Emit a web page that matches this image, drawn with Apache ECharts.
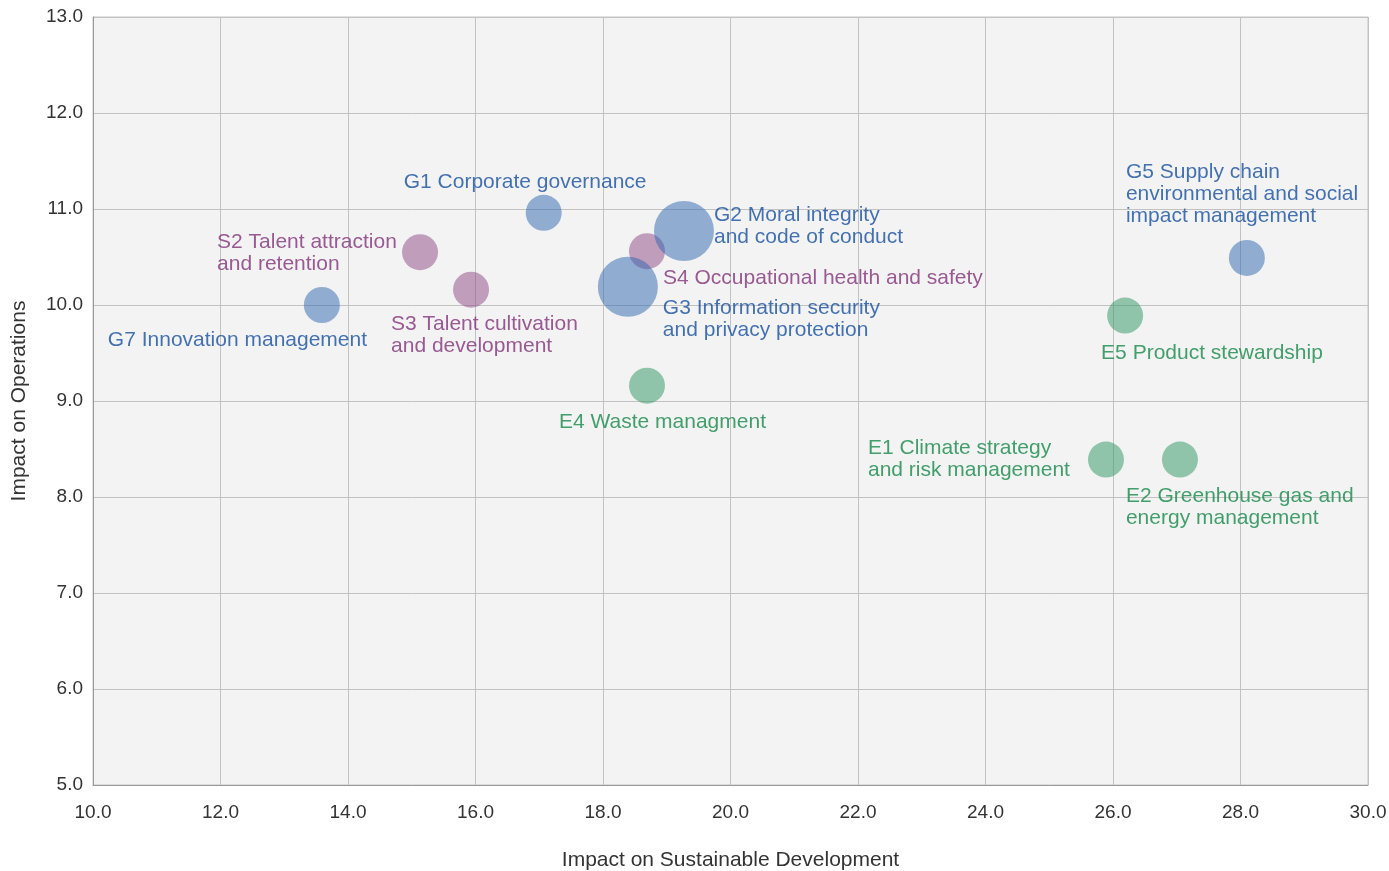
<!DOCTYPE html>
<html>
<head>
<meta charset="utf-8">
<script src="https://cdn.jsdelivr.net/npm/echarts@6/dist/echarts.min.js"></script>
<style>
  html, body { margin: 0; padding: 0; background: #ffffff; }
  #chart { width: 1389px; height: 871px; }
</style>
</head>
<body>
<div id="chart"></div>
<script>
// Material topics: impact on sustainable development (x) vs impact on operations (y)
const topicNames = [
  'G1', 'G2', 'G3', 'G5', 'G7',
  'S2', 'S3', 'S4',
  'E1', 'E2', 'E4', 'E5'
];
const topicLabels = [
  'G1 Corporate governance',
  'G2 Moral integrity\nand code of conduct',
  'G3 Information security\nand privacy protection',
  'G5 Supply chain\nenvironmental and social\nimpact management',
  'G7 Innovation management',
  'S2 Talent attraction\nand retention',
  'S3 Talent cultivation\nand development',
  'S4 Occupational health and safety',
  'E1 Climate strategy\nand risk management',
  'E2 Greenhouse gas and\nenergy management',
  'E4 Waste managment',
  'E5 Product stewardship'
];
const topicGroups = ['G', 'G', 'G', 'G', 'G', 'S', 'S', 'S', 'E', 'E', 'E', 'E'];
const sustainabilityImpact = [17.07, 19.27, 18.39, 28.10, 13.59, 15.13, 15.93, 18.69, 25.89, 27.05, 18.69, 26.19];
const operationsImpact     = [10.96, 10.77, 10.19, 10.49, 10.00, 10.55, 10.16, 10.56, 8.39, 8.39, 9.16, 9.89];
const topicWeight          = [3, 5, 5, 3, 3, 3, 3, 3, 3, 3, 3, 3];

const xTicks = [10, 12, 14, 16, 18, 20, 22, 24, 26, 28, 30];
const yTicks = [5, 6, 7, 8, 9, 10, 11, 12, 13];

// Label placement next to each bubble (offset of the text's left / vertical centre)
const labelOffsets = {
  G1: [-140, -31], G2: [30, -5], G3: [35, 32], G5: [-121, -64], G7: [-214, 35],
  S2: [-203, 1], S3: [-80, 46], S4: [16, 27],
  E1: [-238, 0], E2: [-54, 48], E4: [-88, 37], E5: [-24, 38]
};

const groupStyle = {
  G: { fill: 'rgba(47,100,176,0.62)', text: '#174f9f' },
  S: { fill: 'rgba(142,70,132,0.62)', text: '#82327a' },
  E: { fill: 'rgba(45,147,97,0.62)', text: '#17884a' }
};

const FONT = "'Liberation Sans', Arial, sans-serif";

function buildSeries(group) {
  const data = [];
  topicNames.forEach((n, i) => {
    if (topicGroups[i] !== group) return;
    data.push({
      name: n,
      value: [sustainabilityImpact[i], operationsImpact[i], topicWeight[i]],
      label: {
        formatter: topicLabels[i],
        offset: labelOffsets[n]
      }
    });
  });
  return {
    type: 'scatter',
    name: group,
    data: data,
    symbolSize: v => v[2] * 12,
    itemStyle: { color: groupStyle[group].fill },
    label: {
      show: true,
      position: 'inside',
      align: 'left',
      verticalAlign: 'middle',
      color: groupStyle[group].text,
      fontFamily: FONT,
      fontSize: 21,
      lineHeight: 22
    },
    emphasis: { disabled: true },
    z: 3
  };
}

const chart = echarts.init(document.getElementById('chart'), null, { renderer: 'canvas' });
chart.setOption({
  animation: false,
  grid: {
    left: 93, right: 21, top: 17, bottom: 86,
    outerBoundsMode: 'none',
    containLabel: false,
    show: true,
    backgroundColor: '#f2f3f2',
    borderColor: '#c4c4c4',
    borderWidth: 1
  },
  xAxis: {
    type: 'value',
    min: xTicks[0], max: xTicks[xTicks.length - 1], interval: 2,
    name: 'Impact on Sustainable Development',
    nameLocation: 'middle',
    nameGap: 65,
    nameTextStyle: { color: '#333333', fontSize: 21, fontFamily: FONT },
    axisLine: { show: true, lineStyle: { color: '#9a9a9a' } },
    axisTick: { show: false },
    axisLabel: {
      color: '#333333', fontSize: 19, fontFamily: FONT, margin: 18,
      formatter: v => v.toFixed(1)
    },
    splitLine: { show: true, lineStyle: { color: '#c2c2c2', width: 1 } }
  },
  yAxis: {
    type: 'value',
    min: yTicks[0], max: yTicks[yTicks.length - 1], interval: 1,
    name: 'Impact on Operations',
    nameLocation: 'middle',
    nameGap: 63,
    nameTextStyle: { color: '#333333', fontSize: 21, fontFamily: FONT },
    axisLine: { show: true, lineStyle: { color: '#9a9a9a' } },
    axisTick: { show: false },
    axisLabel: {
      color: '#333333', fontSize: 19, fontFamily: FONT, margin: 10,
      padding: [4, 0, 0, 0],
      formatter: v => v.toFixed(1)
    },
    splitLine: { show: true, lineStyle: { color: '#c2c2c2', width: 1 } }
  },
  series: [buildSeries('E'), buildSeries('S'), buildSeries('G')]
});
</script>
</body>
</html>
